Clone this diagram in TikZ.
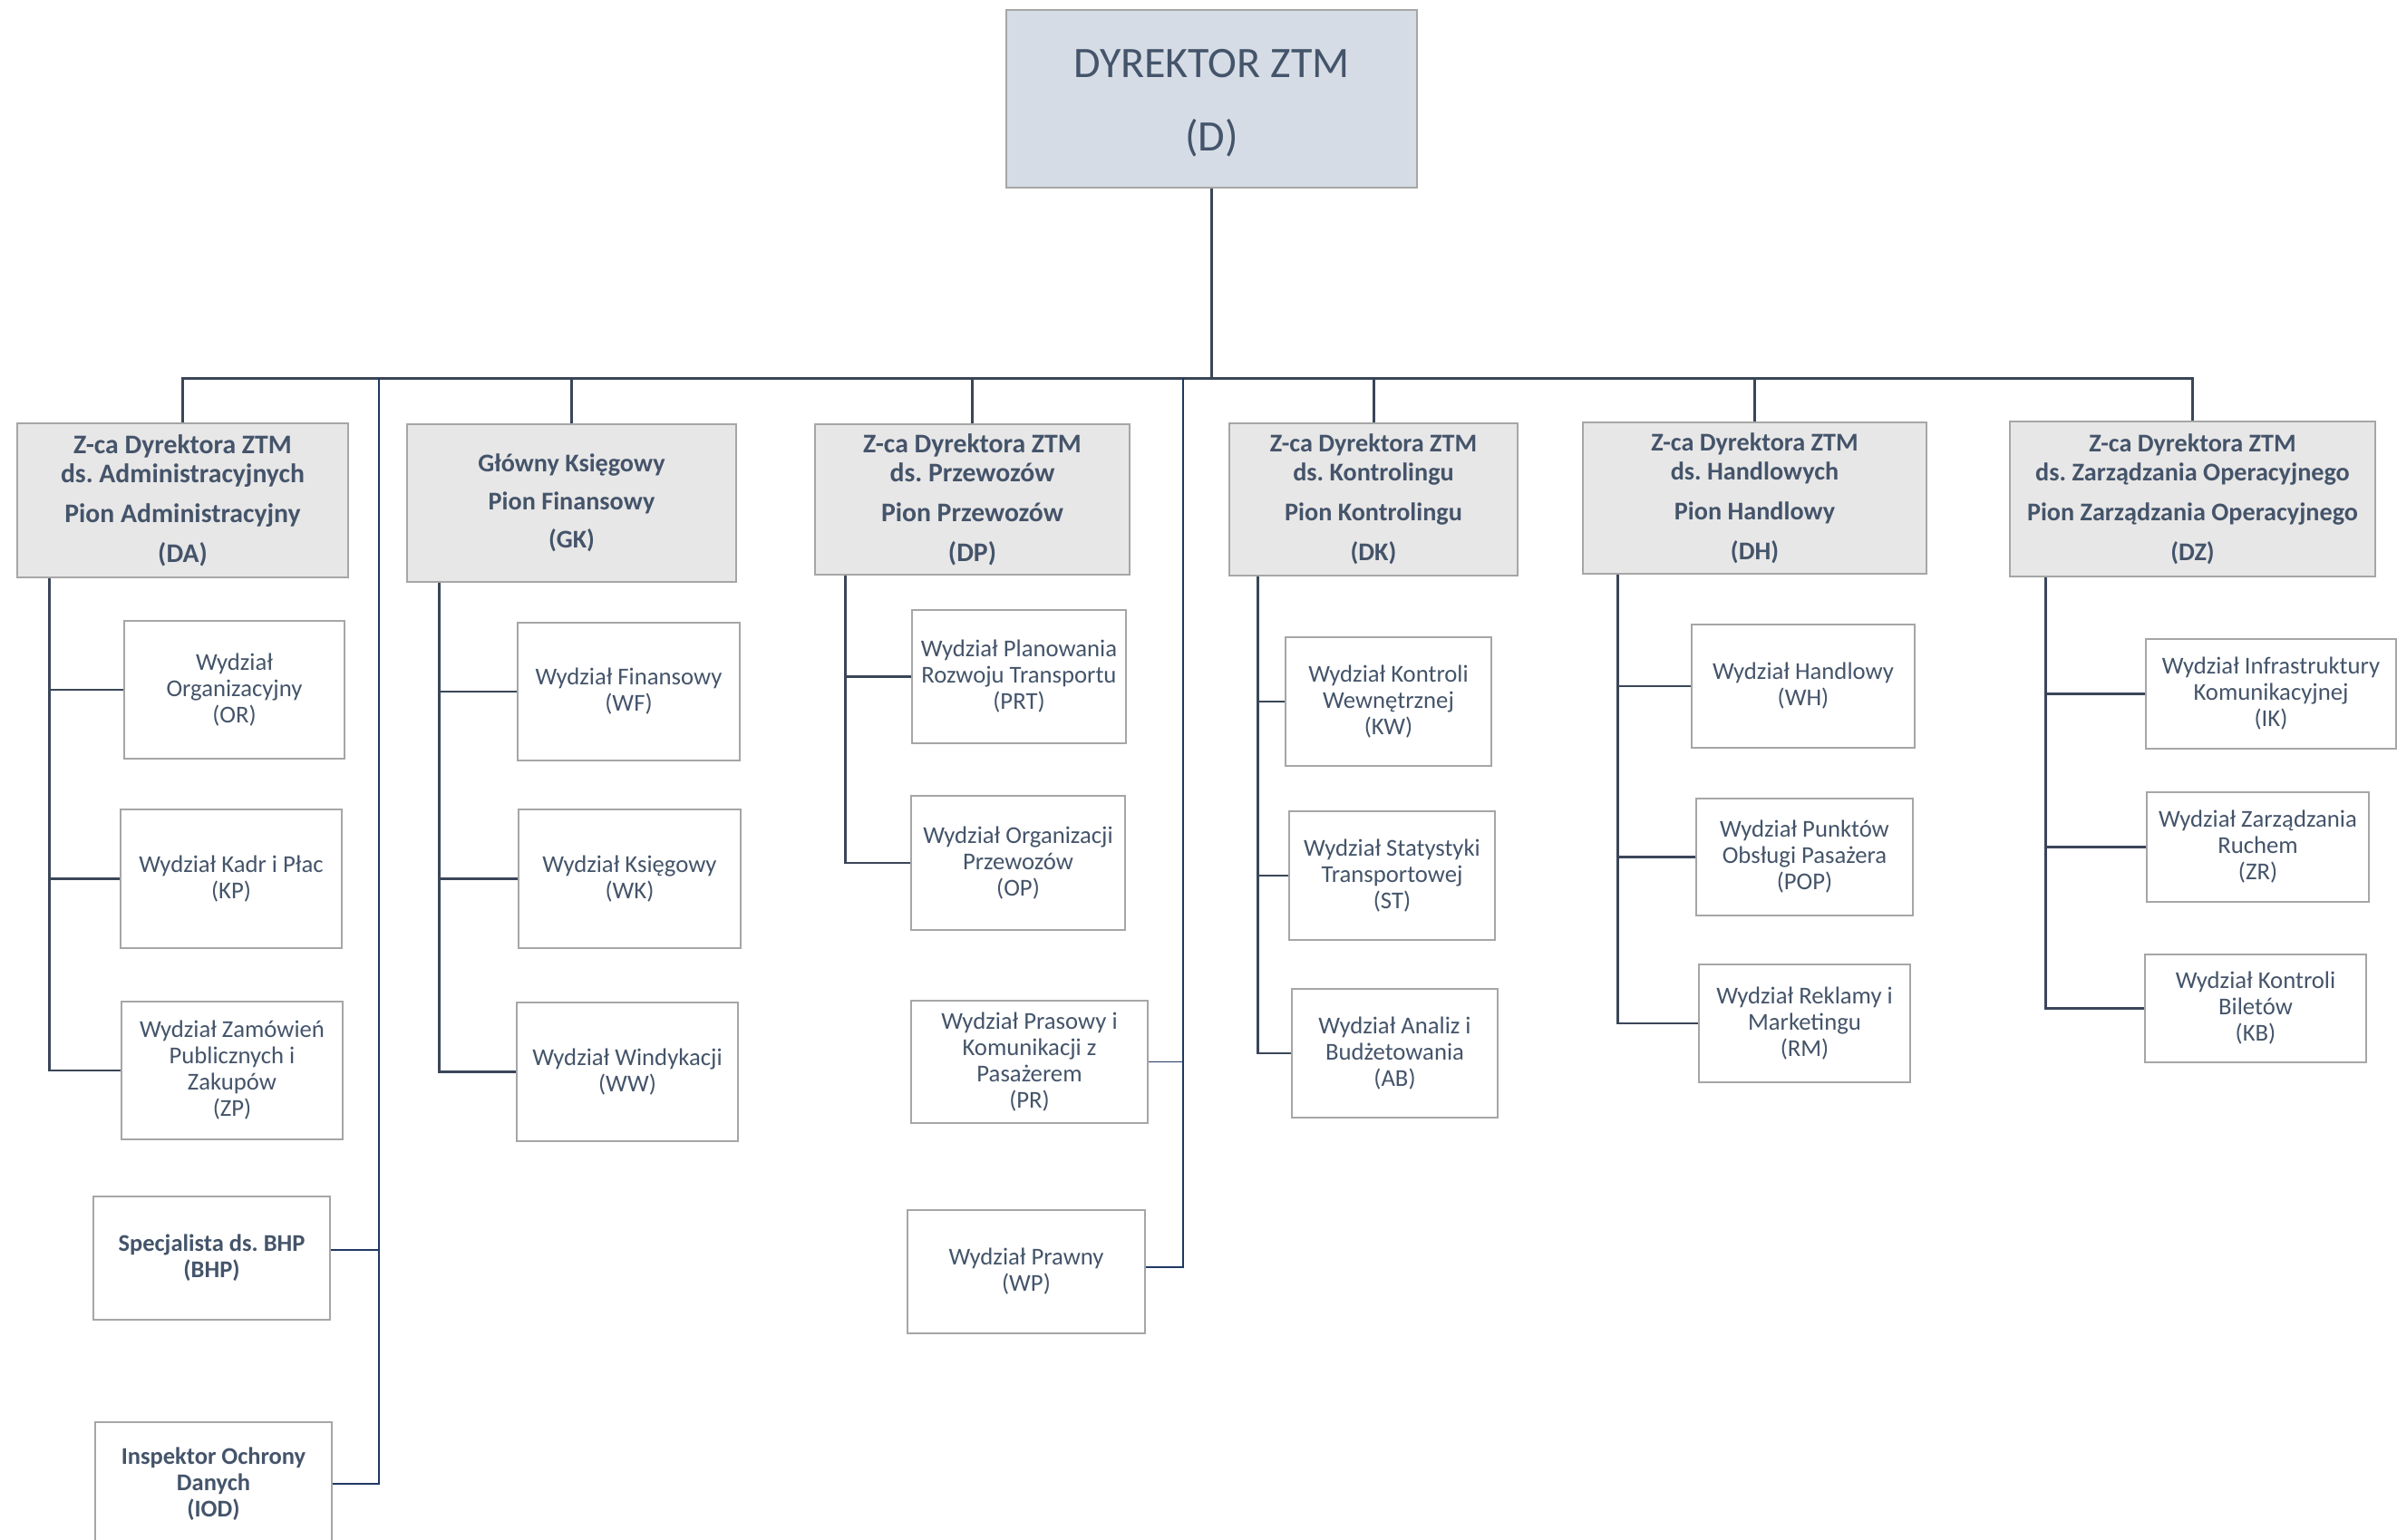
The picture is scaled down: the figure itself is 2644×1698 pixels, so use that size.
\documentclass[tikz,border=0pt]{standalone}
\usepackage{fontspec}
\setmainfont{Carlito}
\frenchspacing
\usetikzlibrary{shapes}

\definecolor{tekst}{HTML}{44546A}
\definecolor{ramka}{HTML}{A6A6A6}
\definecolor{ciemna}{HTML}{3A4658}
\definecolor{granat}{HTML}{203864}
\definecolor{szary}{HTML}{E8E7E7}
\definecolor{niebieski}{HTML}{D6DCE5}

\tikzset{
	dyr/.style = {draw = ramka, line width = 1.5pt, fill = niebieski,
				  text = tekst, align = center, inner sep = 0pt,
				  font = \fontsize{48}{81}\selectfont},
	pion/.style = {draw = ramka, line width = 1.5pt, fill = szary,
				   text = tekst, align = center, inner sep = 0pt,
				   font = \bfseries\fontsize{28.2}{32}\selectfont},
	pionduzy/.style = {pion, font = \bfseries\fontsize{29.7}{32}\selectfont},
	wydz/.style = {draw = ramka, line width = 1.5pt, fill = white,
				   text = tekst, align = center, inner sep = 0pt,
				   font = \fontsize{26.7}{29}\selectfont},
	stan/.style = {wydz, font = \bfseries\fontsize{26.5}{29}\selectfont},
	glowna/.style = {draw = ciemna, line width = 3pt},
	galaz/.style = {draw = ciemna, line width = 2.5pt},
	boczna/.style = {draw = granat, line width = 1.5pt}
}

\begin{document}
\begin{tikzpicture}[x = 1pt, y = -1pt]
	\path[use as bounding box, clip] (0, 0) rectangle (2644, 1698);
	\fill[white] (0, 0) rectangle (2644, 1698);

	% dyrektor
	\draw (1336.5, 109) node[dyr, minimum width = 453pt, minimum height = 196pt](D) {\rule{0pt}{40pt}DYREKTOR ZTM\\(D)};

	% piony
	\draw (201.5, 552) node[pionduzy, minimum width = 365pt, minimum height = 170pt](DA)
		{Z-ca Dyrektora ZTM\\ds. Administracyjnych\\[12pt]Pion Administracyjny\\[12pt](DA)};
	\draw (630.5, 555) node[pion, minimum width = 363pt, minimum height = 174pt](GK)
		{Główny Księgowy\\[10pt]Pion Finansowy\\[10pt](GK)};
	\draw (1072.5, 551) node[pionduzy, minimum width = 347pt, minimum height = 166pt](DP)
		{Z-ca Dyrektora ZTM\\ds. Przewozów\\[12pt]Pion Przewozów\\[12pt](DP)};
	\draw (1515, 551) node[pion, minimum width = 318pt, minimum height = 168pt](DK)
		{Z-ca Dyrektora ZTM\\ds. Kontrolingu\\[12pt]Pion Kontrolingu\\[12pt](DK)};
	\draw (1935.5, 549.5) node[pion, minimum width = 379pt, minimum height = 167pt](DH)
		{Z-ca Dyrektora ZTM\\ds. Handlowych\\[12pt]Pion Handlowy\\[12pt](DH)};
	\draw (2418.5, 550.5) node[pion, minimum width = 403pt, minimum height = 171pt](DZ)
		{Z-ca Dyrektora ZTM\\ds. Zarządzania Operacyjnego\\[12pt]Pion Zarządzania Operacyjnego\\[12pt](DZ)};

	% pion administracyjny
	\draw (258.5, 761) node[wydz, minimum width = 243pt, minimum height = 152pt](OR) {Wydział\\Organizacyjny\\(OR)};
	\draw (255, 969.5) node[wydz, minimum width = 244pt, minimum height = 153pt](KP) {Wydział Kadr i Płac\\(KP)};
	\draw (256, 1181) node[wydz, minimum width = 244pt, minimum height = 152pt](ZP) {Wydział Zamówień\\Publicznych i\\Zakupów\\(ZP)};
	\draw (233.5, 1388) node[stan, minimum width = 261pt, minimum height = 136pt](BHP) {Specjalista ds. BHP\\(BHP)};
	\draw (235.5, 1637) node[stan, minimum width = 261pt, minimum height = 136pt](IOD) {Inspektor Ochrony\\Danych\\(IOD)};

	% pion finansowy
	\draw (693.5, 763) node[wydz, minimum width = 245pt, minimum height = 152pt](WF) {Wydział Finansowy\\(WF)};
	\draw (694.5, 969.5) node[wydz, minimum width = 245pt, minimum height = 153pt](WK) {Wydział Księgowy\\(WK)};
	\draw (692, 1182.5) node[wydz, minimum width = 244pt, minimum height = 153pt](WW) {Wydział Windykacji\\(WW)};

	% pion przewozow
	\draw (1124, 746.5) node[wydz, minimum width = 236pt, minimum height = 147pt](PRT) {Wydział Planowania\\Rozwoju Transportu\\(PRT)};
	\draw (1123, 952) node[wydz, minimum width = 236pt, minimum height = 148pt](OP) {Wydział Organizacji\\Przewozów\\(OP)};
	\draw (1135.5, 1171.5) node[wydz, minimum width = 261pt, minimum height = 135pt](PR) {Wydział Prasowy i\\Komunikacji z\\Pasażerem\\(PR)};
	\draw (1132, 1403) node[wydz, minimum width = 262pt, minimum height = 136pt](WP) {Wydział Prawny\\(WP)};

	% pion kontrolingu
	\draw (1531.5, 774) node[wydz, minimum width = 227pt, minimum height = 142pt](KW) {Wydział Kontroli\\Wewnętrznej\\(KW)};
	\draw (1535.5, 966) node[wydz, minimum width = 227pt, minimum height = 142pt](ST) {Wydział Statystyki\\Transportowej\\(ST)};
	\draw (1538.5, 1162) node[wydz, minimum width = 227pt, minimum height = 142pt](AB) {Wydział Analiz i\\Budżetowania\\(AB)};

	% pion handlowy
	\draw (1989, 757) node[wydz, minimum width = 246pt, minimum height = 136pt](WH) {Wydział Handlowy\\(WH)};
	\draw (1990.5, 945.5) node[wydz, minimum width = 239pt, minimum height = 129pt](POP) {Wydział Punktów\\Obsługi Pasażera\\(POP)};
	\draw (1990.5, 1129) node[wydz, minimum width = 233pt, minimum height = 130pt](RM) {Wydział Reklamy i\\Marketingu\\(RM)};

	% pion zarzadzania operacyjnego
	\draw (2505, 765.5) node[wydz, minimum width = 276pt, minimum height = 121pt](IK) {Wydział Infrastruktury\\Komunikacyjnej\\(IK)};
	\draw (2490.5, 934.5) node[wydz, minimum width = 245pt, minimum height = 121pt](ZR) {Wydział Zarządzania\\Ruchem\\(ZR)};
	\draw (2488, 1112.5) node[wydz, minimum width = 244pt, minimum height = 119pt](KB) {Wydział Kontroli\\Biletów\\(KB)};

	% magistrala
	\coordinate (bus) at (1336.5, 417);
	\coordinate (sideA) at (418, 417);
	\coordinate (sideP) at (1305, 417);
	\draw[glowna] (D.south) -- (bus);
	\draw[glowna] (DA.north) |- (DZ.north |- bus) -- (DZ.north);
	\foreach \p in {GK, DP, DK, DH}
		\draw[glowna] (\p.north) -- (\p.north |- bus);

	% stanowiska samodzielne
	\draw[boczna] (sideA) |- (IOD.east);
	\draw[boczna] ([yshift = 9pt]BHP.east) -- ([yshift = 9pt]BHP.east -| sideA);
	\draw[boczna] (sideP) |- ([yshift = 5pt]WP.east);
	\draw[boczna] (PR.east) -- (PR.east -| sideP);

	% galezie
	\coordinate (DAs) at ([xshift = 36pt]DA.south west);
	\coordinate (GKs) at ([xshift = 36pt]GK.south west);
	\coordinate (DPs) at ([xshift = 34pt]DP.south west);
	\coordinate (DKs) at ([xshift = 32pt]DK.south west);
	\coordinate (DHs) at ([xshift = 39pt]DH.south west);
	\coordinate (DZs) at ([xshift = 40pt]DZ.south west);

	\draw[galaz] (DAs) |- (ZP.west);
	\draw[galaz] (GKs) |- (WW.west);
	\draw[galaz] (DPs) |- (OP.west);
	\draw[galaz] (DKs) |- (AB.west);
	\draw[galaz] (DHs) |- (RM.west);
	\draw[galaz] (DZs) |- (KB.west);
	\foreach \w/\s in {OR/DAs, KP/DAs, WF/GKs, WK/GKs, PRT/DPs, KW/DKs, ST/DKs, WH/DHs, POP/DHs, IK/DZs, ZR/DZs}
		\draw[galaz] (\w.west) -- (\w.west -| \s);

\end{tikzpicture}
\end{document}
